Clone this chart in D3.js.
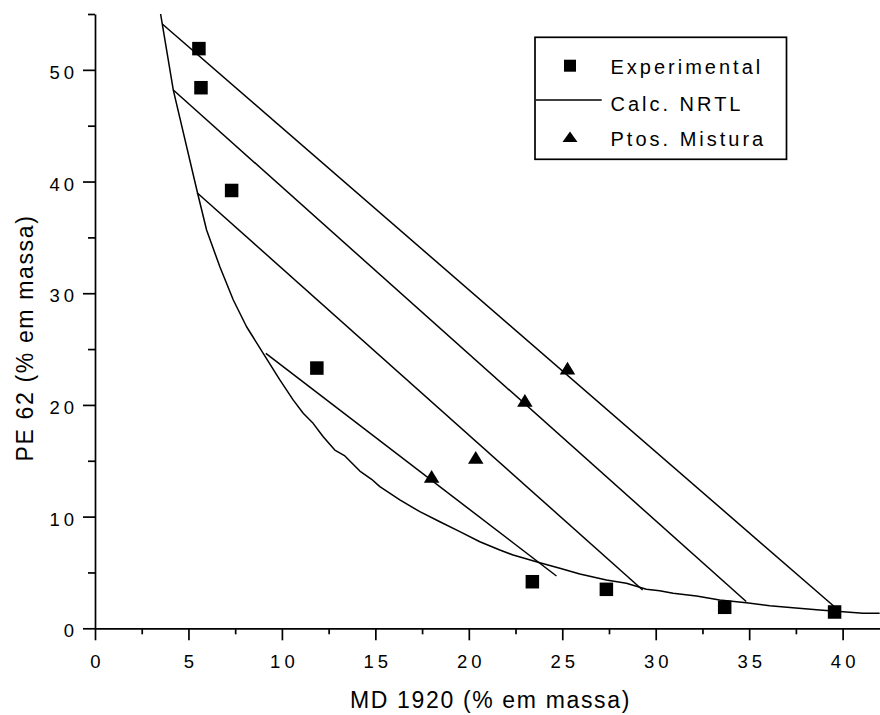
<!DOCTYPE html>
<html>
<head>
<meta charset="utf-8">
<script src="https://cdn.jsdelivr.net/npm/d3@7"></script>
<style>
  html, body { margin: 0; padding: 0; background: #fff; }
  svg { display: block; font-family: "Liberation Sans", Arial, Helvetica, sans-serif; }
</style>
</head>
<body>
<svg id="chart" width="880" height="715"></svg>
<script>
// Experimental tie-line end points (MD 1920 vs PE 62, % em massa)
const expX = [5.56, 5.67, 7.31, 11.87, 23.40, 27.36, 33.69, 39.57];
const expY = [51.9, 48.4, 39.2, 23.3, 4.17, 3.49, 1.88, 1.46];

// Mixture points
const mixX = [25.28, 23.0, 20.37, 18.01];
const mixY = [23.3, 20.4, 15.3, 13.6];

// NRTL binodal curve
const binodalX = [3.51, 3.60, 4.19, 5.48, 5.97, 6.68, 7.40, 8.11, 9.00, 9.89, 10.60, 11.14,
  11.67, 12.21, 12.83, 13.37, 14.17, 14.80, 15.24, 16.31, 17.38, 18.45, 19.52, 20.59,
  21.66, 22.37, 23.80, 24.87, 25.94, 27.36, 28.43, 29.50, 30.21, 30.93, 32.18, 33.42,
  34.85, 36.10, 37.34, 38.77, 40.02, 41.09, 41.98];
const binodalY = [55.0, 54.10, 48.19, 39.02, 35.66, 32.37, 29.39, 27.00, 24.62, 22.24, 20.45, 19.25,
  18.35, 17.15, 15.96, 15.43, 14.08, 13.34, 12.68, 11.49, 10.44, 9.54, 8.65, 7.75,
  7.01, 6.56, 5.87, 5.37, 4.86, 4.32, 4.03, 3.49, 3.37, 3.13, 2.89, 2.53,
  2.29, 2.02, 1.84, 1.64, 1.49, 1.34, 1.34];

// NRTL tie lines: left end (x, y) and right end (x, y)
const tieX1 = [3.60, 4.19, 5.46, 9.14];
const tieY1 = [54.10, 48.19, 39.0, 24.62];
const tieX2 = [39.55, 34.84, 29.30, 24.69];
const tieY2 = [1.95, 2.40, 3.43, 4.68];

// Axis ticks
const xMajor = [0, 5, 10, 15, 20, 25, 30, 35, 40];
const xMinor = [2.5, 7.5, 12.5, 17.5, 22.5, 27.5, 32.5, 37.5];
const yMajor = [0, 10, 20, 30, 40, 50];
const yMinor = [5, 15, 25, 35, 45, 55];

const legendLabels = ["Experimental", "Calc. NRTL", "Ptos. Mistura"];

const svg = d3.select("#chart");
const plotLeft = 95, plotRight = 880, plotTop = 14, plotBottom = 628.3;

const x = d3.scaleLinear().domain([0, 42]).range([plotLeft, plotRight]);
const y = d3.scaleLinear().domain([0, 55]).range([plotBottom, plotTop]);

const AXIS_W = 1.7, LINE_W = 1.5;
const tickFont = 18.5, tickSpacing = 4;

// X axis
const gx = svg.append("g").attr("transform", `translate(0,${plotBottom})`);
gx.call(d3.axisBottom(x).tickValues(xMajor).tickSize(12).tickSizeOuter(0).tickFormat(d3.format("d")));
gx.append("g").call(d3.axisBottom(x).tickValues(xMinor).tickSize(6).tickSizeOuter(0).tickFormat(""))
  .select(".domain").remove();

// Y axis
const gy = svg.append("g").attr("transform", `translate(${plotLeft},0)`);
gy.call(d3.axisLeft(y).tickValues(yMajor).tickSize(12).tickSizeOuter(0).tickFormat(d3.format("d")));
gy.append("g").call(d3.axisLeft(y).tickValues(yMinor).tickSize(7).tickSizeOuter(0).tickFormat(""))
  .select(".domain").remove();

[gx, gy].forEach(g => g.attr("font-family", null).attr("font-size", null));
svg.selectAll(".domain, .tick line")
  .attr("stroke", "#000").attr("stroke-width", AXIS_W);

gx.selectAll(".tick text")
  .attr("y", 40).attr("dy", null).attr("dx", tickSpacing / 2)
  .style("font-size", tickFont + "px").style("letter-spacing", tickSpacing + "px")
  .attr("fill", "#000");
gy.selectAll(".tick text")
  .attr("x", -17).attr("dy", "0.46em")
  .style("font-size", tickFont + "px").style("letter-spacing", tickSpacing + "px")
  .attr("fill", "#000");

// Axis titles
svg.append("text")
  .attr("x", 350).attr("y", 708)
  .style("font-size", "23px").style("letter-spacing", "1.65px")
  .text("MD 1920 (% em massa)");

svg.append("text")
  .attr("transform", "rotate(-90)")
  .attr("x", -461.5).attr("y", 32.5)
  .style("font-size", "23px").style("letter-spacing", "1.65px")
  .text("PE 62 (% em massa)");

// Binodal curve
const binodal = binodalX.map((v, i) => [v, binodalY[i]]);
svg.append("path")
  .datum(binodal)
  .attr("fill", "none").attr("stroke", "#000").attr("stroke-width", LINE_W)
  .attr("stroke-linejoin", "round")
  .attr("d", d3.line().x(d => x(d[0])).y(d => y(d[1])));

// Tie lines
svg.append("g").selectAll("line")
  .data(tieX1.map((v, i) => ({ x1: v, y1: tieY1[i], x2: tieX2[i], y2: tieY2[i] })))
  .join("line")
  .attr("x1", d => x(d.x1)).attr("y1", d => y(d.y1))
  .attr("x2", d => x(d.x2)).attr("y2", d => y(d.y2))
  .attr("stroke", "#000").attr("stroke-width", LINE_W);

// Experimental squares
const sq = 13.5;
svg.append("g").selectAll("rect")
  .data(expX.map((v, i) => [v, expY[i]]))
  .join("rect")
  .attr("x", d => x(d[0]) - sq / 2).attr("y", d => y(d[1]) - sq / 2)
  .attr("width", sq).attr("height", sq)
  .attr("fill", "#000");

// Mixture triangles
const triPath = (cx, cy, w, h) =>
  `M${cx},${cy - h / 2}L${cx + w / 2},${cy + h / 2}L${cx - w / 2},${cy + h / 2}Z`;
svg.append("g").selectAll("path")
  .data(mixX.map((v, i) => [v, mixY[i]]))
  .join("path")
  .attr("d", d => triPath(x(d[0]), y(d[1]), 15.5, 12.7))
  .attr("fill", "#000");

// Legend
const lg = svg.append("g");
lg.append("rect")
  .attr("x", 535).attr("y", 37.3).attr("width", 251.5).attr("height", 122)
  .attr("fill", "#fff").attr("stroke", "#000").attr("stroke-width", AXIS_W);
lg.append("rect")
  .attr("x", 570 - 6).attr("y", 65.7 - 6).attr("width", 12).attr("height", 12).attr("fill", "#000");
lg.append("line")
  .attr("x1", 536).attr("x2", 601.7).attr("y1", 100).attr("y2", 100)
  .attr("stroke", "#000").attr("stroke-width", LINE_W);
lg.append("path").attr("d", triPath(570, 136.7, 15, 10.5)).attr("fill", "#000");
lg.selectAll("text")
  .data(legendLabels)
  .join("text")
  .attr("x", 610.5)
  .attr("y", (d, i) => [74, 110.5, 146][i])
  .style("font-size", "20px").style("letter-spacing", "3px")
  .text(d => d);
</script>
</body>
</html>
